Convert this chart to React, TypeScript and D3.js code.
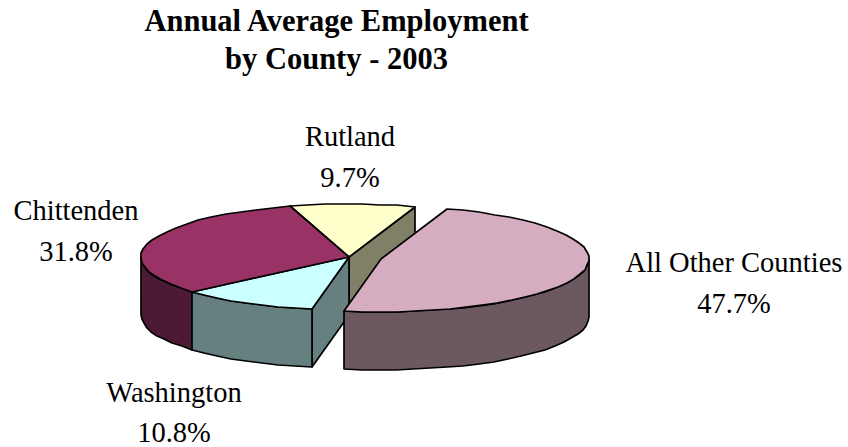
import React from "react";
import * as d3 from "d3";

const categories = ["Rutland", "All Other Counties", "Washington", "Chittenden"];
const shares = [9.7, 47.7, 10.8, 31.8];
const topColors = ["#ffffcc", "#d6acc0", "#ccffff", "#993366"];
const sideColors = ["#808066", "#6b5860", "#668080", "#4d1a33"];
const titleLines = ["Annual Average Employment", "by County - 2003"];

const width = 848;
const height = 447;
const rad = Math.PI / 180;

// pie geometry, squashed to fake the 3D look
const center = { x: 349, y: 257 };
const rx = 208;
const ry = 53;
const depth = 58;
const explodeIndex = 1;
const explode = { x: 32, y: 2 };

const pie = d3
  .pie<number>()
  .sort(null)
  .startAngle(-16.5 * rad)
  .endAngle(343.5 * rad);
const slices = pie(shares);

const line = d3.line();

function point(a: number, dx = 0, dy = 0): [number, number] {
  return [
    Math.round(center.x + dx + rx * Math.sin(a)),
    Math.round(center.y + dy - ry * Math.cos(a)),
  ];
}

// coarse steps and whole pixels give the rim its stepped edge
function rim(a0: number, a1: number, dx = 0, dy = 0) {
  const n = Math.max(1, Math.ceil(Math.abs(a1 - a0) / (5 * rad)));
  return d3.range(n + 1).map((i) => point(a0 + ((a1 - a0) * i) / n, dx, dy));
}

function topPath(s: d3.PieArcDatum<number>, dx = 0, dy = 0) {
  const apex: [number, number] = [center.x + dx, center.y + dy];
  return line([apex, ...rim(s.startAngle, s.endAngle, dx, dy)])! + "Z";
}

function wallPath(a0: number, a1: number, dx = 0, dy = 0) {
  const upper = rim(a0, a1, dx, dy);
  const lower = upper.map(([x, y]) => [x, y + depth] as [number, number]).reverse();
  return line([...upper, ...lower])! + "Z";
}

// flat cut face running from the pie centre out to the rim
function cutPath(a: number, dx = 0, dy = 0) {
  const apex: [number, number] = [center.x + dx, center.y + dy];
  const edge = point(a, dx, dy);
  return (
    line([
      apex,
      edge,
      [edge[0], edge[1] + depth],
      [apex[0], apex[1] + depth],
    ])! + "Z"
  );
}

const labels = [
  { i: 0, x: 350, y: 146, dy: 41 },
  { i: 1, x: 734, y: 272, dy: 41 },
  { i: 2, x: 174, y: 402, dy: 40 },
  { i: 3, x: 76, y: 220, dy: 41 },
];

const edge = { stroke: "#000", strokeWidth: 1.7, strokeLinejoin: "round" as const };

export default function App() {
  const [rutland, other, washington, chittenden] = slices;
  const frontEnd = 270 * rad;
  const frontStart = 90 * rad;
  return (
    <svg
      width={width}
      height={height}
      style={{ position: "absolute", left: 0, top: 0, background: "#fff" }}
      fontFamily="'Liberation Serif', 'Times New Roman', serif"
    >
      <g textAnchor="middle" fontWeight="bold" fontSize={30.5} fill="#000">
        {titleLines.map((t, i) => (
          <text key={t} x={336.5} y={31 + i * 38}>
            {t}
          </text>
        ))}
      </g>

      {/* back to front */}
      <path d={cutPath(rutland.endAngle)} fill={sideColors[0]} {...edge} />
      <path d={wallPath(chittenden.startAngle, frontEnd)} fill={sideColors[3]} {...edge} />
      <path d={cutPath(washington.startAngle)} fill={sideColors[2]} {...edge} />
      <path d={wallPath(washington.startAngle, washington.endAngle)} fill={sideColors[2]} {...edge} />
      {[rutland, washington, chittenden].map((s) => (
        <path key={s.index} d={topPath(s)} fill={topColors[s.index]} {...edge} />
      ))}

      {/* pulled out slice */}
      <path
        d={wallPath(frontStart, other.endAngle, explode.x, explode.y)}
        fill={sideColors[explodeIndex]}
        {...edge}
      />
      <path d={topPath(other, explode.x, explode.y)} fill={topColors[explodeIndex]} {...edge} />

      <g textAnchor="middle" fontSize={28.5} fill="#000">
        {labels.map((l) => (
          <text key={l.i} x={l.x} y={l.y}>
            <tspan x={l.x}>{categories[l.i]}</tspan>
            <tspan x={l.x} dy={l.dy}>
              {shares[l.i].toFixed(1)}%
            </tspan>
          </text>
        ))}
      </g>
    </svg>
  );
}
